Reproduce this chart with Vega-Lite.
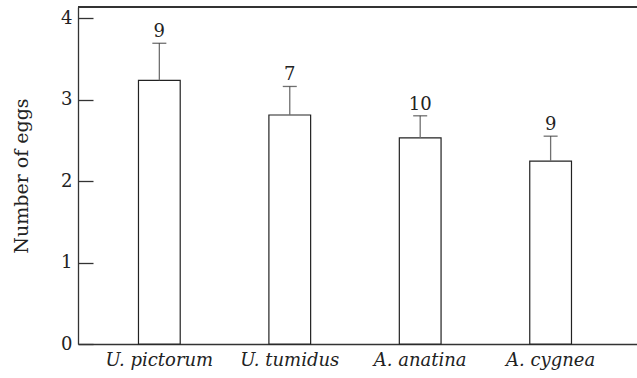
{
  "$schema": "https://vega.github.io/schema/vega-lite/v6.json",
  "autosize": {"type": "none"},
  "padding": {"left": 78, "top": 7, "right": 0, "bottom": 34},
  "width": 559,
  "height": 337,
  "background": "white",
  "config": {
    "view": {"stroke": null},
    "font": "DejaVu Serif",
    "axis": {
      "domainColor": "#333333",
      "domainWidth": 1.3,
      "labelColor": "#222222",
      "titleColor": "#222222",
      "labelFont": "DejaVu Serif",
      "titleFont": "DejaVu Serif",
      "grid": false
    }
  },
  "data": {
    "values": [
      {"species": "U. pictorum", "mean": 3.235, "upper": 3.69, "n": 9},
      {"species": "U. tumidus", "mean": 2.81, "upper": 3.16, "n": 7},
      {"species": "A. anatina", "mean": 2.53, "upper": 2.80, "n": 10},
      {"species": "A. cygnea", "mean": 2.245, "upper": 2.55, "n": 9}
    ]
  },
  "encoding": {
    "x": {
      "field": "species",
      "type": "nominal",
      "sort": null,
      "scale": {"paddingInner": 0.68, "paddingOuter": 0.483, "align": 0.48},
      "axis": {
        "title": null,
        "ticks": false,
        "labelAngle": 0,
        "labelFontSize": 18,
        "labelFontStyle": "italic",
        "labelPadding": 7
      }
    }
  },
  "layer": [
    {
      "mark": {"type": "bar", "fill": "white", "stroke": "#222222", "strokeWidth": 1.2},
      "encoding": {
        "y": {
          "field": "mean",
          "type": "quantitative",
          "scale": {"domain": [0, 4.135], "nice": false, "zero": true},
          "axis": {
            "title": "Number of eggs",
            "titleFontSize": 19,
            "titleFontWeight": "normal",
            "titlePadding": 29,
            "values": [0, 1, 2, 3, 4],
            "format": "d",
            "labelFontSize": 18,
            "tickSize": -15,
            "tickColor": "#333333",
            "tickWidth": 1.3,
            "labelPadding": 21
          }
        }
      }
    },
    {
      "mark": {"type": "rule", "color": "#707070", "strokeWidth": 1.3},
      "encoding": {
        "y": {"field": "mean", "type": "quantitative"},
        "y2": {"field": "upper"}
      }
    },
    {
      "mark": {"type": "tick", "color": "#333333", "thickness": 1.3, "size": 14},
      "encoding": {
        "y": {"field": "upper", "type": "quantitative"}
      }
    },
    {
      "mark": {"type": "text", "baseline": "alphabetic", "dy": -6, "fontSize": 18, "color": "#222222", "font": "DejaVu Serif"},
      "encoding": {
        "y": {"field": "upper", "type": "quantitative"},
        "text": {"field": "n", "type": "quantitative"}
      }
    },
    {
      "mark": {"type": "rule", "color": "#333333", "strokeWidth": 1.5},
      "encoding": {
        "y": {"datum": 4.135},
        "x": {"value": 0},
        "x2": {"value": 559}
      }
    }
  ]
}
